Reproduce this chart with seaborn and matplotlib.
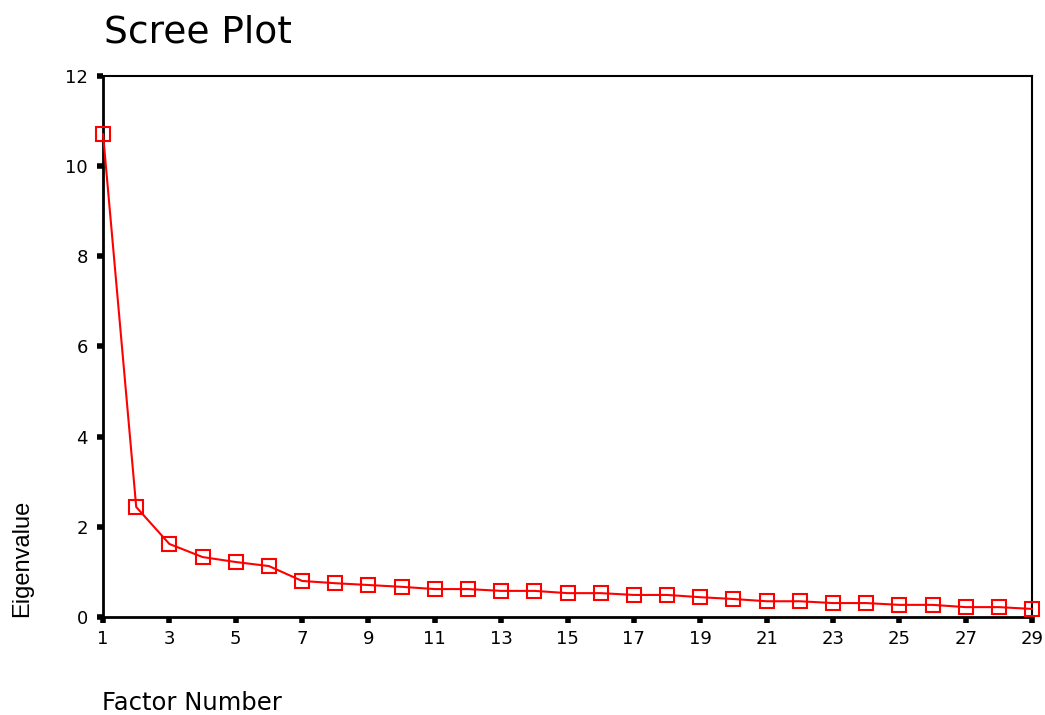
import numpy as np
import pandas as pd
import matplotlib
matplotlib.use('Agg')
import matplotlib.pyplot as plt
import seaborn as sns

factor = list(range(1, 30))
eigen = [10.71, 2.44, 1.62, 1.33, 1.22, 1.13, 0.80, 0.75, 0.71, 0.67,
         0.62, 0.62, 0.58, 0.58, 0.53, 0.53, 0.49, 0.49, 0.44, 0.40,
         0.35, 0.35, 0.31, 0.31, 0.27, 0.27, 0.22, 0.22, 0.18]
xticks = list(range(1, 30, 2))
yticks = list(range(0, 13, 2))

df = pd.DataFrame({'factor': factor, 'eigen': eigen})

sns.set_style('white')
plt.rcParams['font.family'] = ['DejaVu Sans']
plt.rcParams['text.color'] = 'black'

fig = plt.figure(figsize=(10.45, 7.15), dpi=100)
ax = fig.add_axes([0.0986, 0.137, 0.889, 0.757])

sns.lineplot(data=df, x='factor', y='eigen', ax=ax, color='red', linewidth=1.5,
             marker='s', markersize=10, markerfacecolor='none',
             markeredgecolor='red', markeredgewidth=1.5, clip_on=False, zorder=3)

ax.set_xlim(1, 29)
ax.set_ylim(0, 12)
ax.set_xticks(xticks)
ax.set_yticks(yticks)
ax.tick_params(axis='both', direction='out', length=4, width=4, color='black',
               labelsize=13, labelcolor='black', bottom=True, left=True)
ax.tick_params(axis='y', pad=7)
ax.tick_params(axis='x', pad=5)
for s in ax.spines.values():
    s.set_visible(True)
    s.set_color('black')
    s.set_linewidth(1.5)
ax.spines['left'].set_linewidth(2)
ax.spines['bottom'].set_linewidth(2)
ax.set_xlabel('')
ax.set_ylabel('')

fig.text(0.100, 0.955, 'Scree Plot', fontsize=27, ha='left', va='center')
fig.text(0.098, 0.017, 'Factor Number', fontsize=17.5, ha='left', va='center')
fig.text(0.021, 0.137, 'Eigenvalue', fontsize=17, rotation=90, ha='center', va='bottom',
         family=['Liberation Sans', 'DejaVu Sans'])

fig.savefig('out.png', dpi=100)
